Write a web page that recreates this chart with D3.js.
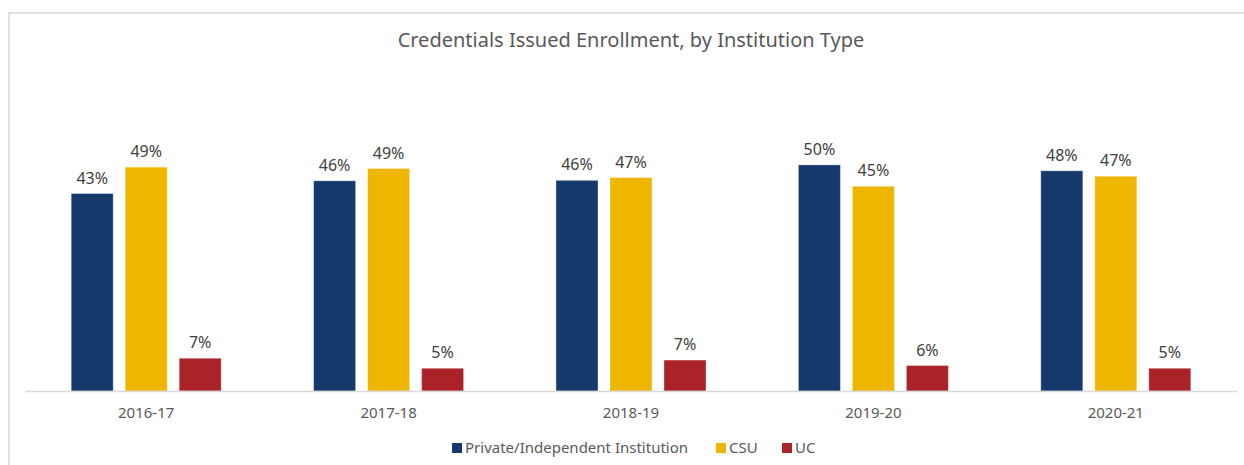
<!DOCTYPE html>
<html lang="en">
<head>
    <meta charset="UTF-8">
    <title>Credentials Issued Enrollment, by Institution Type</title>
    <script src="https://d3js.org/d3.v7.min.js"></script>
    <style>
        body { margin: 0; background: #fff; }
        svg { display: block; font-family: "Noto Sans", "Open Sans", sans-serif; }
        .frame { fill: none; stroke: #d9d9d9; stroke-width: 1.5; }
        .title { font-size: 20px; fill: #595959; }
        .val { font-size: 16px; fill: #404040; }
        .cat { font-size: 15px; fill: #595959; }
        .leg { font-size: 15px; fill: #595959; }
    </style>
</head>
<body>
<svg width="1244" height="465"></svg>
<script>
    const years = ["2016-17", "2017-18", "2018-19", "2019-20", "2020-21"];
    const seriesNames = ["Private/Independent Institution", "CSU", "UC"];
    const privateVals = [0.434, 0.462, 0.463, 0.497, 0.484];
    const csuVals = [0.492, 0.489, 0.469, 0.450, 0.472];
    const ucVals = [0.072, 0.050, 0.068, 0.056, 0.050];
    const colors = ["#15396a", "#efb600", "#ab2328"];

    const width = 1244;
    const height = 465;
    const left = 25, right = 1237;
    const baseY = 391;

    const svg = d3.select("svg");

    svg.append("rect")
        .attr("class", "frame")
        .attr("x", 9)
        .attr("y", 13)
        .attr("width", width + 20)
        .attr("height", height + 20);

    svg.append("text")
        .attr("class", "title")
        .attr("x", 631)
        .attr("y", 47)
        .attr("text-anchor", "middle")
        .text("Credentials Issued Enrollment, by Institution Type");

    const x0 = d3.scaleBand().domain(years).range([left, right]);
    const x1 = d3.scaleBand().domain(seriesNames).range([0, 150]).paddingInner(12 / 54);
    const y = d3.scaleLinear().domain([0, 0.6]).range([baseY, baseY - 273]);

    const allVals = [privateVals, csuVals, ucVals];
    const rows = [];
    years.forEach((yr, i) => {
        seriesNames.forEach((s, j) => {
            rows.push({ year: yr, series: s, idx: j, value: allVals[j][i] });
        });
    });

    const groupX = d => x0(d.year) + x0.bandwidth() / 2 - 75 + x1(d.series);

    svg.selectAll(".bar")
        .data(rows)
        .enter()
        .append("rect")
        .attr("class", "bar")
        .attr("x", groupX)
        .attr("y", d => y(d.value))
        .attr("width", x1.bandwidth())
        .attr("height", d => baseY - y(d.value))
        .attr("fill", d => colors[d.idx])
        .attr("stroke", "#ffffff")
        .attr("stroke-opacity", 0.35)
        .attr("stroke-width", 1);

    svg.selectAll(".val")
        .data(rows)
        .enter()
        .append("text")
        .attr("class", "val")
        .attr("x", d => groupX(d) + x1.bandwidth() / 2)
        .attr("y", d => y(d.value) - 10)
        .attr("text-anchor", "middle")
        .text(d => Math.round(d.value * 100) + "%");

    // axis line and category labels
    const xAxis = d3.axisBottom(x0).tickSize(0).tickPadding(16);
    const axisG = svg.append("g")
        .attr("transform", `translate(0,${baseY})`)
        .call(xAxis)
        .attr("font-size", null)
        .attr("font-family", null);
    axisG.select(".domain").attr("stroke", "#d9d9d9").attr("stroke-width", 1.5);
    axisG.selectAll("text").attr("class", "cat").attr("fill", null);

    // legend
    const legendX = [452, 716, 782];
    const leg = svg.selectAll(".legItem")
        .data(seriesNames)
        .enter()
        .append("g")
        .attr("transform", (d, i) => `translate(${legendX[i]},448)`);
    leg.append("rect")
        .attr("x", 0)
        .attr("y", -5)
        .attr("width", 10)
        .attr("height", 10)
        .attr("fill", (d, i) => colors[i]);
    leg.append("text")
        .attr("class", "leg")
        .attr("x", 13)
        .attr("y", 5)
        .text(d => d);
</script>
</body>
</html>
